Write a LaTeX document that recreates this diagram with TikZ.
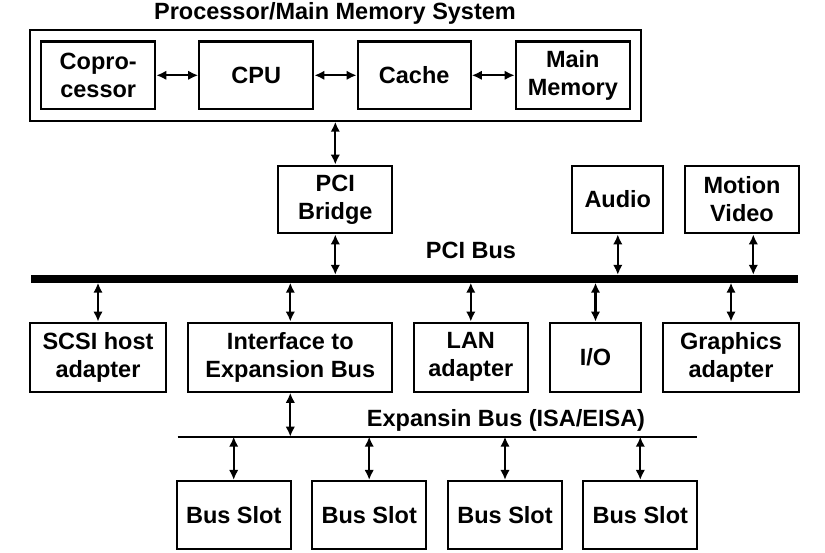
\documentclass[tikz,border=0pt]{standalone}
\usepackage{fontspec}
\setmainfont{Liberation Sans}
\usetikzlibrary{arrows.meta}
\begin{document}
\begin{tikzpicture}[x=1bp,y=-1bp,
  every node/.style={font=\fontsize{23.5bp}{28bp}\selectfont\bfseries},
  box/.style={draw, line width=2.2bp, inner sep=0pt, align=center, minimum height=68bp},
  lbl/.style={inner sep=0pt},
  arr/.style={line width=2.2bp, {Latex[length=10bp,width=9.5bp]}-{Latex[length=10bp,width=9.5bp]}}]
\useasboundingbox (0,0) rectangle (825,553);
% processor / main memory system
\node[lbl] (title) at (335,13) {Processor/Main Memory System};
\node[draw, line width=2.2bp, inner sep=0pt, minimum width=610.7bp, minimum height=90.7bp] (pms) at (335.3,75.3) {};
\node[box, minimum width=114bp, minimum height=67.5bp] (copro) at (98.2,75.3) {Copro-\\cessor};
\node[box, minimum width=114bp, minimum height=67.5bp] (cpu) at (256.3,75.3) {CPU};
\node[box, minimum width=113bp, minimum height=67.5bp] (cache) at (414.2,75.3) {Cache};
\node[box, minimum width=114bp, minimum height=67.5bp] (mem) at (572.8,75.3) {Main\\Memory};
\draw[arr] (copro.east) -- (cpu.west);
\draw[arr] (cpu.east) -- (cache.west);
\draw[arr] (cache.east) -- (mem.west);
% PCI level
\node[box, minimum width=114bp, minimum height=67.6bp] (bridge) at (335.3,199.5) {PCI\\Bridge};
\node[box, minimum width=91bp, minimum height=67.6bp] (audio) at (617.8,199.5) {Audio};
\node[box, minimum width=114bp, minimum height=67.6bp] (video) at (742,199.5) {Motion\\Video};
\node[fill, inner sep=0pt, minimum width=767.6bp, minimum height=7.5bp] (pcibus) at (414.5,278.8) {};
\node[lbl] (pcilbl) at (471,250) {PCI Bus};
\draw[arr] (pms.south -| bridge.north) -- (bridge.north);
\draw[arr] (bridge.south) -- (bridge.south |- pcibus.north);
\draw[arr] (audio.south) -- (audio.south |- pcibus.north);
\coordinate (vidport) at ([xshift=11.3bp]video.south);
\draw[arr] (vidport) -- (vidport |- pcibus.north);
% lower row
\node[box, minimum width=136bp, minimum height=69bp] (scsi) at (98,357.2) {SCSI host\\adapter};
\node[box, minimum width=204bp, minimum height=69bp] (iface) at (290.3,357.2) {Interface to\\Expansion Bus};
\node[box, minimum width=113.7bp, minimum height=69bp] (lan) at (470.8,357.2) {LAN\\adapter};
\node[box, minimum width=91bp, minimum height=69bp] (io) at (595.5,357.2) {I/O};
\node[box, minimum width=136bp, minimum height=69bp] (gfx) at (731,357.2) {Graphics\\adapter};
\draw[arr] (pcibus.south -| scsi.north) -- (scsi.north);
\draw[arr] (pcibus.south -| iface.north) -- (iface.north);
\draw[arr] (pcibus.south -| lan.north) -- (lan.north);
\draw[arr] (pcibus.south -| io.north) -- (io.north);
\draw[arr] (pcibus.south -| gfx.north) -- (gfx.north);
% expansion bus
\coordinate (expL) at (177.7,436.7);
\coordinate (expR) at (696.7,436.7);
\draw[line width=1.8bp] (expL) -- (expR);
\node[lbl] (explbl) at (506,420) {Expansin Bus (ISA/EISA)};
\draw[arr] (iface.south) -- (iface.south |- expL);
\node[box, minimum width=114bp, minimum height=68.3bp] (s1) at (233.7,515.2) {Bus Slot};
\node[box, minimum width=114bp, minimum height=68.3bp] (s2) at (369.2,515.2) {Bus Slot};
\node[box, minimum width=114bp, minimum height=68.3bp] (s3) at (505,515.2) {Bus Slot};
\node[box, minimum width=114bp, minimum height=68.3bp] (s4) at (640.3,515.2) {Bus Slot};
\draw[arr] (expL -| s1.north) -- (s1.north);
\draw[arr] (expL -| s2.north) -- (s2.north);
\draw[arr] (expL -| s3.north) -- (s3.north);
\draw[arr] (expL -| s4.north) -- (s4.north);
\end{tikzpicture}
\end{document}
